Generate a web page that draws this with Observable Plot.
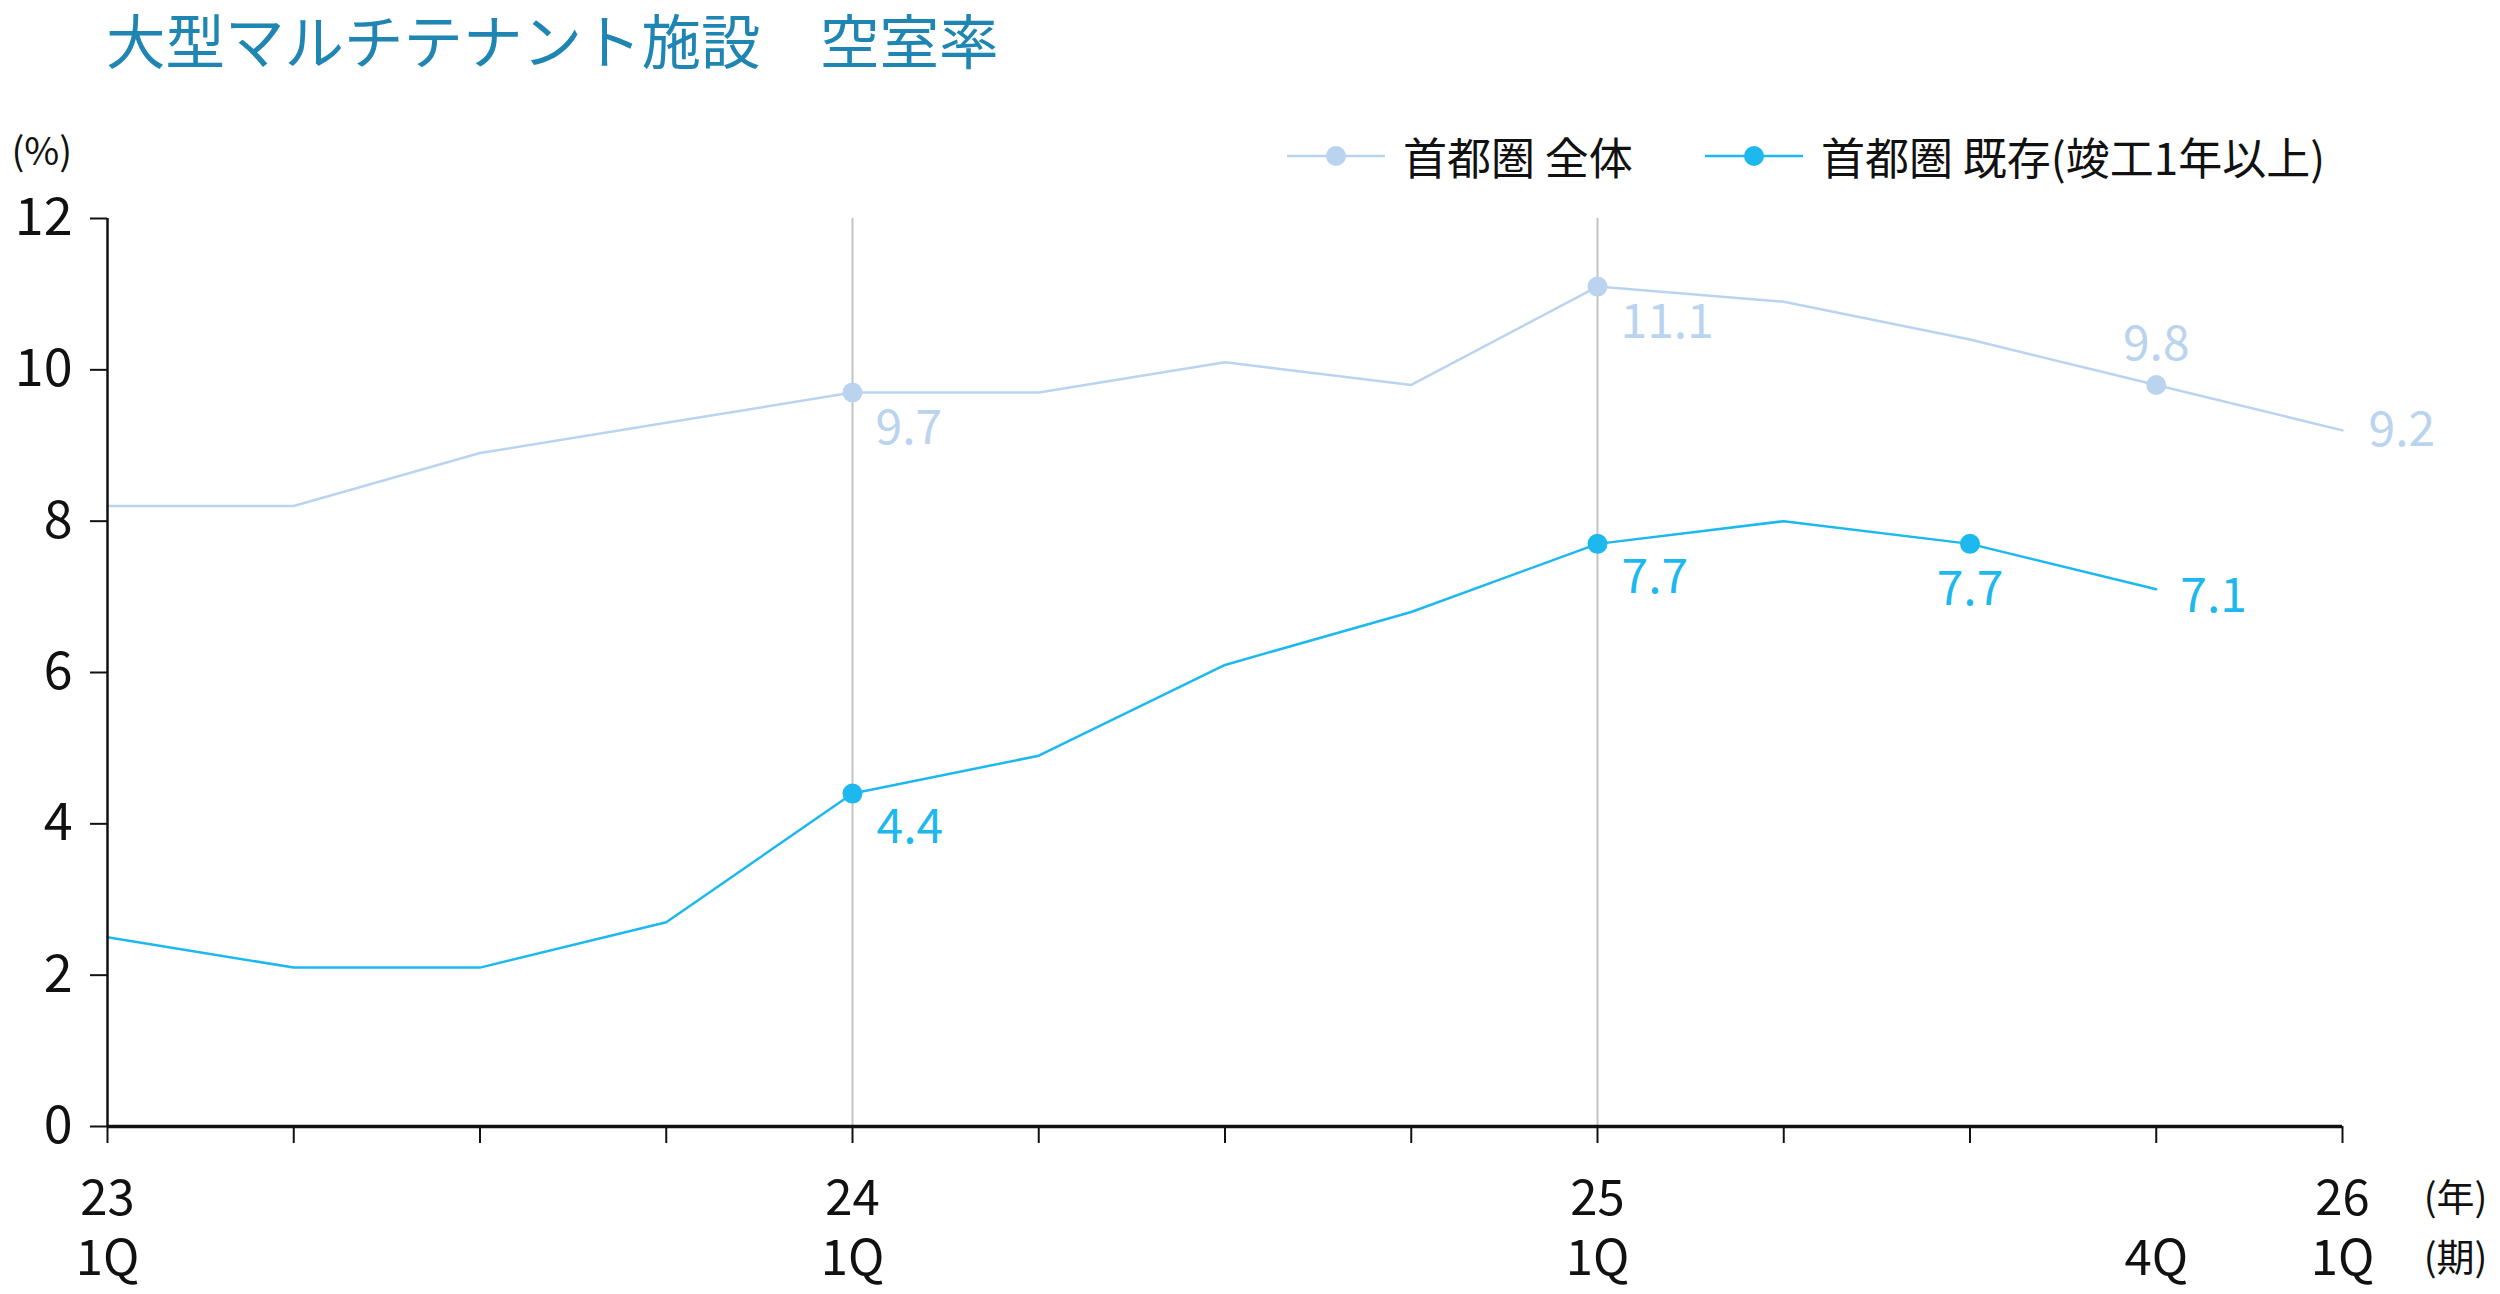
<!DOCTYPE html>
<html>
<head>
<meta charset="utf-8">
<script src="https://cdn.jsdelivr.net/npm/d3@7"></script>
<script src="https://cdn.jsdelivr.net/npm/@observablehq/plot@0.6"></script>
<style>
  html, body { margin: 0; padding: 0; background: #fff; overflow: hidden; }
  #wrap { position: relative; width: 2500px; height: 1294px; font-family: "Noto Sans CJK JP", "Noto Sans", sans-serif; }
  #title { position: absolute; left: 106px; top: 3px; font-size: 59.5px; color: #1f86b3; white-space: pre; line-height: 1.2; }
  .leg { position: absolute; top: 128px; height: 56px; display: flex; align-items: center; font-size: 44px; color: #111; white-space: pre; }
  .leg svg { margin-right: 18px; }
  #chart { position: absolute; left: 0; top: 0; }
</style>
</head>
<body>
<div id="wrap">
  <div id="chart"></div>
  <div id="title"></div>
  <div class="leg" id="leg1"></div>
  <div class="leg" id="leg2"></div>
</div>
<script>
// ---- data ----
const titleText = "大型マルチテナント施設　空室率";
const seriesNames = ["首都圏 全体", "首都圏 既存(竣工1年以上)"];
const quarters = ["23Q1","23Q2","23Q3","23Q4","24Q1","24Q2","24Q3","24Q4","25Q1","25Q2","25Q3","25Q4","26Q1"];
const yearLabels = ["23","","","","24","","","","25","","","","26"];
const quarterLabels = ["1Q","","","","1Q","","","","1Q","","","4Q","1Q"];
const totalValues = [8.2, 8.2, 8.9, 9.3, 9.7, 9.7, 10.1, 9.8, 11.1, 10.9, 10.4, 9.8, 9.2];
const existingValues = [2.5, 2.1, 2.1, 2.7, 4.4, 4.9, 6.1, 6.8, 7.7, 8.0, 7.7, 7.1, null];
const totalMarked = ["24Q1", "25Q1", "25Q4"];
const existingMarked = ["24Q1", "25Q1", "25Q3"];
const gridQuarters = ["24Q1", "25Q1"];
const yTicks = [0, 2, 4, 6, 8, 10, 12];
const yUnit = "(%)";
const yearUnit = "(年)";
const quarterUnit = "(期)";

// ---- build tables ----
const colors = ["#bad4ef", "#1cb8ee"];
const idx = q => quarters.indexOf(q);
const total = quarters.map((q, i) => ({i, q, v: totalValues[i]}));
const existing = quarters.map((q, i) => ({i, q, v: existingValues[i]})).filter(d => d.v != null);
const ticks = quarters.map((q, i) => ({i, year: yearLabels[i], quarter: quarterLabels[i]}));
const pick = (arr, qs) => arr.filter(d => qs.includes(d.q));
const fmt = d => d.v.toFixed(1);
const lastT = total[total.length - 1];
const lastE = existing[existing.length - 1];

const font = "Noto Sans CJK JP";
const plot = Plot.plot({
  width: 2500,
  height: 1294,
  marginTop: 218,
  marginRight: 158,
  marginBottom: 168,
  marginLeft: 107,
  style: {fontFamily: font, fontSize: "52px", color: "#111", background: "transparent"},
  x: {domain: [0, quarters.length - 1]},
  y: {domain: [0, 12]},
  marks: [
    Plot.ruleX(gridQuarters.map(idx), {y1: 0, y2: 12, stroke: "#c4c4c4", strokeWidth: 2}),
    Plot.axisY({ticks: yTicks, tickSize: 17, tickPadding: 18, stroke: "#111", strokeWidth: 2, fontSize: 52, label: null}),
    Plot.axisX({ticks: ticks.map(d => d.i), tickSize: 17, tickFormat: () => "", stroke: "#111", strokeWidth: 2, label: null}),
    Plot.text(ticks.filter(d => d.year), {x: "i", text: "year", frameAnchor: "bottom", dy: 88, fontSize: 49, lineHeight: 1, fill: "#111"}),
    Plot.text(ticks.filter(d => d.quarter), {x: "i", text: "quarter", frameAnchor: "bottom", dy: 148, fontSize: 49, lineHeight: 1, fill: "#111"}),
    Plot.text([yearUnit], {x: quarters.length - 1, frameAnchor: "bottom", dx: 113, dy: 84, fontSize: 38, fill: "#111"}),
    Plot.text([quarterUnit], {x: quarters.length - 1, frameAnchor: "bottom", dx: 113, dy: 144, fontSize: 38, fill: "#111"}),
    Plot.text([yUnit], {frameAnchor: "top-left", dx: -96, dy: -80, textAnchor: "start", fontSize: 38, fill: "#111"}),
    Plot.line(total, {x: "i", y: "v", stroke: colors[0], strokeWidth: 2.5}),
    Plot.line(existing, {x: "i", y: "v", stroke: colors[1], strokeWidth: 2.5}),
    Plot.ruleX([0], {y1: 0, y2: 12, stroke: "#111", strokeWidth: 2.5}),
    Plot.ruleY([0], {stroke: "#111", strokeWidth: 3.5}),
    Plot.dot(pick(total, totalMarked), {x: "i", y: "v", r: 10, fill: colors[0]}),
    Plot.dot(pick(existing, existingMarked), {x: "i", y: "v", r: 10, fill: colors[1]}),
    // labels below-right of marked points
    Plot.text(pick(total, ["24Q1", "25Q1"]), {x: "i", y: "v", text: fmt, dx: 23, dy: 36, textAnchor: "start", fontSize: 48, fill: colors[0]}),
    Plot.text(pick(existing, ["24Q1", "25Q1"]), {x: "i", y: "v", text: fmt, dx: 24, dy: 34, textAnchor: "start", fontSize: 48, fill: colors[1]}),
    // label above
    Plot.text(pick(total, ["25Q4"]), {x: "i", y: "v", text: fmt, dy: -40, fontSize: 48, fill: colors[0]}),
    // label below
    Plot.text(pick(existing, ["25Q3"]), {x: "i", y: "v", text: fmt, dy: 46, fontSize: 48, fill: colors[1]}),
    // end labels
    Plot.text([lastT], {x: "i", y: "v", text: fmt, dx: 26, dy: 0, textAnchor: "start", fontSize: 48, fill: colors[0]}),
    Plot.text([lastE], {x: "i", y: "v", text: fmt, dx: 24, dy: 7, textAnchor: "start", fontSize: 48, fill: colors[1]})
  ]
});
document.getElementById("chart").appendChild(plot);
document.getElementById("title").textContent = titleText;

function legendItem(el, left, name, color) {
  el.style.left = left + "px";
  const ns = "http://www.w3.org/2000/svg";
  const s = document.createElementNS(ns, "svg");
  s.setAttribute("width", 98); s.setAttribute("height", 30);
  const l = document.createElementNS(ns, "line");
  l.setAttribute("x1", 0); l.setAttribute("x2", 98); l.setAttribute("y1", 15); l.setAttribute("y2", 15);
  l.setAttribute("stroke", color); l.setAttribute("stroke-width", 2.5);
  const c = document.createElementNS(ns, "circle");
  c.setAttribute("cx", 49); c.setAttribute("cy", 15); c.setAttribute("r", 10); c.setAttribute("fill", color);
  s.appendChild(l); s.appendChild(c);
  el.appendChild(s);
  const t = document.createElement("span");
  t.textContent = name;
  el.appendChild(t);
}
legendItem(document.getElementById("leg1"), 1287, seriesNames[0], colors[0]);
legendItem(document.getElementById("leg2"), 1705, seriesNames[1], colors[1]);
</script>
</body>
</html>
